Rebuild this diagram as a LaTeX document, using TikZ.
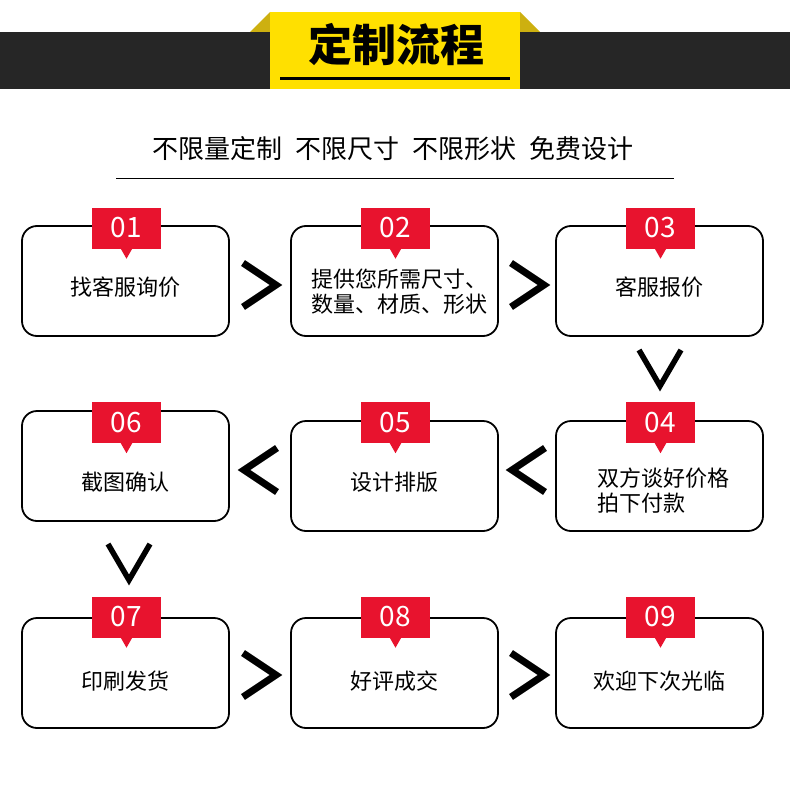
\documentclass[tikz,border=0pt]{standalone}
\usepackage{fontspec}
\usetikzlibrary{calc}
\newfontfamily\cjk{Noto Sans CJK SC}
\definecolor{tagred}{HTML}{E8132E}
\definecolor{yel}{HTML}{FFE000}
\definecolor{darkyel}{HTML}{CDB010}
\definecolor{band}{HTML}{262626}
\tikzset{
  procbox/.style={draw=black, line width=1.8pt, rounded corners=15pt, minimum width=207pt, minimum height=110pt, inner sep=0pt},
  tagbox/.style={fill=tagred, text=white, minimum width=69pt, minimum height=41pt, inner sep=0pt, font=\cjk\fontsize{28}{30}\selectfont},
  boxtext/.style={font=\cjk\fontsize{22}{25}\selectfont, align=left, inner sep=0pt},
  chev/.style={line width=7pt, miter limit=10}
}
\newcommand{\mkstep}[8]{% name, cx, cy(box), tag y, number, text x, text y, text
  \node[procbox] (#1) at (#2,#3) {};
  \node[tagbox] (#1tag) at (#2+1,#4) {#5};
  \fill[tagred] ($(#1tag.south)+(-6,-0.5)$) -- ($(#1tag.south)+(0,10)$) -- ($(#1tag.south)+(6,-0.5)$) -- cycle;
  \node[boxtext] (#1txt) at (#6,#7) {#8};
}
\begin{document}
\begin{tikzpicture}[x=1pt,y=-1pt]
\fill[white] (0,0) rectangle (790,792);
\useasboundingbox (0,0) rectangle (790,792);
% header
\fill[band] (0,32) rectangle (790,89);
\fill[darkyel] (250,32) -- (270,12) -- (270,32) -- cycle;
\fill[darkyel] (520,12) -- (540,32) -- (520,32) -- cycle;
\node[fill=yel, minimum width=250pt, minimum height=77pt, inner sep=0pt, anchor=north west] (titlebox) at (270,12) {};
\node[font=\cjk\bfseries\fontsize{44}{46}\selectfont, inner sep=0pt] (title) at (396,45) {定制流程};
\draw[line width=2.5pt] ($(titlebox.south west)+(10,-11)$) -- ($(titlebox.south east)+(-10,-11)$);
% subtitle
\node[font=\cjk\fontsize{26}{28}\selectfont, inner sep=0pt] (sub) at (393,149) {不限量定制\hspace{13pt}不限尺寸\hspace{13pt}不限形状\hspace{13pt}免费设计};
\coordinate (l1) at (116,178);
\coordinate (l2) at (674,178);
\draw[line width=1pt] (l1) -- (l2);
% steps
\mkstep{s1}{125.5}{281}{228}{01}{125.5}{287}{找客服询价}
\mkstep{s2}{394.5}{281}{228}{02}{399}{292}{提供您所需尺寸、\\数量、材质、形状}
\mkstep{s3}{659.5}{281}{228}{03}{659.5}{287}{客服报价}
\mkstep{s6}{125.5}{466}{422.5}{06}{125.5}{482}{截图确认}
\mkstep{s5}{394.5}{476}{422.5}{05}{394.5}{482}{设计排版}
\mkstep{s4}{659.5}{476}{422.5}{04}{663}{491}{双方谈好价格\\拍下付款}
\mkstep{s7}{125.5}{673}{617}{07}{125.5}{681}{印刷发货}
\mkstep{s8}{394.5}{673}{617}{08}{394.5}{681}{好评成交}
\mkstep{s9}{659.5}{673}{617}{09}{659.5}{681}{欢迎下次光临}
% chevrons
\coordinate (c12) at (260,285);
\coordinate (c23) at (528,285);
\coordinate (c34) at (660,369);
\coordinate (c45) at (528,470);
\coordinate (c56) at (260,470);
\coordinate (c67) at (129,563);
\coordinate (c78) at (260,675);
\coordinate (c89) at (528,675);
\foreach \c in {c12,c23,c78,c89}
  \draw[chev] ($(\c)+(-17,-22)$) -- ($(\c)+(16,0)$) -- ($(\c)+(-17,22)$);
\foreach \c in {c45,c56}
  \draw[chev] ($(\c)+(17,-22)$) -- ($(\c)+(-16,0)$) -- ($(\c)+(17,22)$);
\foreach \c in {c34,c67}
  \draw[line width=5.5pt, miter limit=10] ($(\c)+(-21,-19)$) -- ($(\c)+(0,17)$) -- ($(\c)+(21,-19)$);
\end{tikzpicture}
\end{document}
